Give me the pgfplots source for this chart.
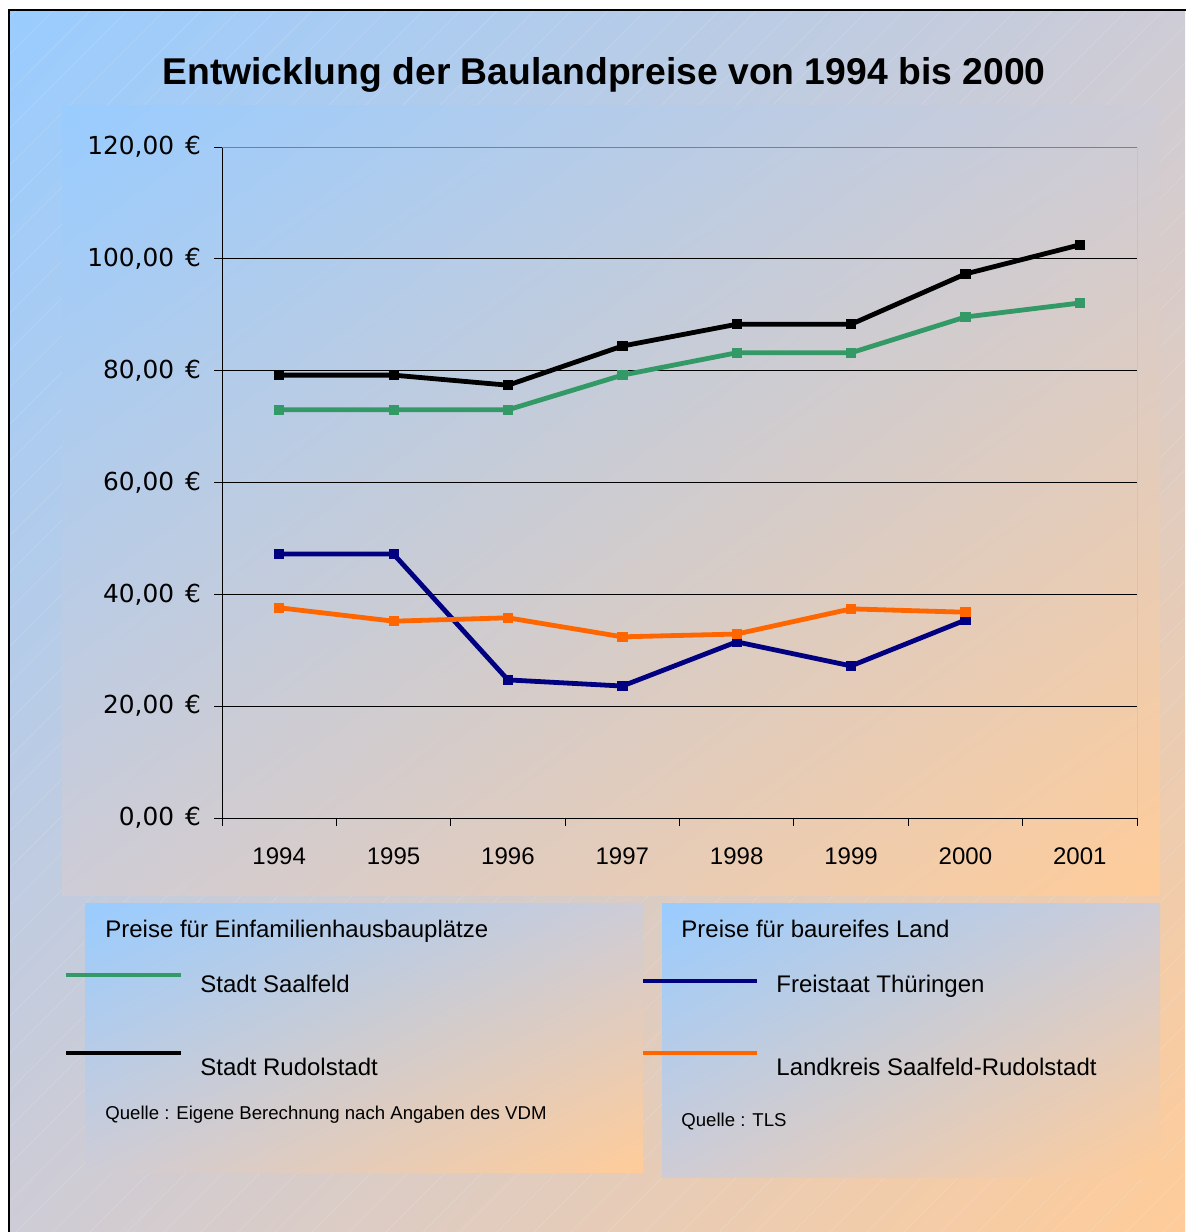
\documentclass[border=0pt]{standalone}
\usepackage{pgfplots}
\pgfplotsset{compat=1.18}
\usetikzlibrary{shadings}
\usepackage{fontspec}
\setmainfont{Liberation Sans}
\newfontfamily\dejavu{DejaVu Sans}
\definecolor{cblue}{RGB}{153,204,255}
\definecolor{cpeach}{RGB}{255,204,153}
\definecolor{cmid}{RGB}{206,204,214}
\definecolor{sgreen}{RGB}{51,153,102}
\definecolor{snavy}{RGB}{0,0,128}
\definecolor{sorange}{RGB}{255,102,0}
\tikzset{bg/.style={upper left=cblue, lower right=cpeach, upper right=cmid, lower left=cmid},
  ser/.style={line width=2.4pt, mark=square*, mark size=2.3pt, mark options={solid, line width=0.4pt}}}
\begin{document}
\begin{tikzpicture}[x=0.5pt,y=-0.5pt]
\useasboundingbox (0,0) rectangle (1185,1232);
\fill[white] (0,0) rectangle (1185,1232);
\begin{scope}
\clip (9,10) rectangle (1185,1232);
\shade[bg] (9,10) rectangle (1185,1232);
\foreach \a in {-1250,-1213,...,1200} \draw[white,opacity=0.18,line width=0.3pt] (\a,1240) -- ++(1260,-1260);
\end{scope}
\draw[line width=0.8pt] (9,1240) -- (9,10) -- (1190,10);
\shade[bg] (62,105) rectangle (1160,895);
\shade[bg] (85,903) rectangle (643,1172);
\shade[bg] (662,903) rectangle (1160,1177);
\node[font=\bfseries\fontsize{18.65}{20}\selectfont] at (604,75) {Entwicklung der Baulandpreise von 1994 bis 2000};
\begin{axis}[at={(111pt,-409pt)}, anchor=south west, scale only axis,
  width=457.5pt, height=335.5pt,
  xmin=-0.5, xmax=7.5, ymin=0, ymax=120,
  axis x line*=bottom, axis y line*=left,
  axis line style={black, line width=0.5pt},
  xtick={-0.5,0.5,...,7.5}, x tick label as interval,
  xticklabels={1994,1995,1996,1997,1998,1999,2000,2001},
  ytick={0,20,...,120},
  yticklabels={{0,00\;\,€},{20,00\;\,€},{40,00\;\,€},{60,00\;\,€},{80,00\;\,€},{100,00\;\,€},{120,00\;\,€}},
  tick align=outside, major tick length=4pt, tick style={black, line width=0.5pt},
  ymajorgrids, grid style={black, line width=0.5pt},
  yticklabel style={font=\dejavu\fontsize{12.4}{14}\selectfont, xshift=-3pt},
  xticklabel style={font=\fontsize{12}{14}\selectfont, yshift=-7.5pt},
]
\addplot[sgreen, ser] coordinates {(0,73.0)(1,73.0)(2,73.0)(3,79.2)(4,83.2)(5,83.2)(6,89.6)(7,92.1)};
\addplot[black, ser] coordinates {(0,79.2)(1,79.2)(2,77.4)(3,84.4)(4,88.3)(5,88.3)(6,97.3)(7,102.5)};
\addplot[snavy, ser] coordinates {(0,47.2)(1,47.2)(2,24.7)(3,23.6)(4,31.5)(5,27.2)(6,35.4)};
\addplot[sorange, ser] coordinates {(0,37.6)(1,35.2)(2,35.8)(3,32.4)(4,32.9)(5,37.4)(6,36.8)};
\draw[gray, line width=0.5pt] (rel axis cs:0,1) -- (rel axis cs:1,1) -- (rel axis cs:1,0);
\end{axis}
\draw[sgreen, line width=2.4pt] (66,975) -- (181,975);
\draw[black, line width=2.4pt] (66,1053) -- (181,1053);
\draw[snavy, line width=2.4pt] (643,981) -- (757,981);
\draw[sorange, line width=2.4pt] (643,1053) -- (757,1053);
\begin{scope}[every node/.style={anchor=base west, inner sep=0pt, font=\fontsize{12}{14}\selectfont}]
\node at (105,937.5) {Preise für Einfamilienhausbauplätze};
\node at (200,992) {Stadt Saalfeld};
\node at (200,1075) {Stadt Rudolstadt};
\node[font=\fontsize{9.3}{11}\selectfont] at (105,1119.5) {Quelle : Eigene Berechnung nach Angaben des VDM};
\node at (681,937.5) {Preise für baureifes Land};
\node at (776,992) {Freistaat Thüringen};
\node at (776,1075) {Landkreis Saalfeld-Rudolstadt};
\node[font=\fontsize{9.3}{11}\selectfont] at (681,1126) {Quelle : TLS};
\end{scope}
\end{tikzpicture}
\end{document}
